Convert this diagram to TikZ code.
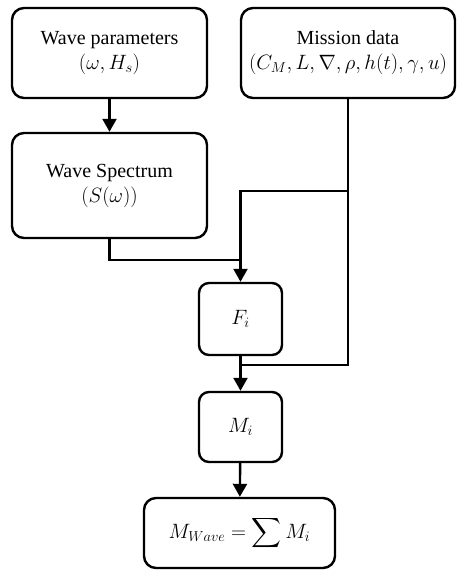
\documentclass[tikz,border=0pt]{standalone}
\usepackage{amsmath}
\usepackage{fontspec}
\setmainfont{Liberation Serif}
\usetikzlibrary{arrows.meta}

\tikzset{
    blk/.style={draw, line width=2.4pt, rounded corners=12pt, align=center,
        font=\fontsize{20}{25}\selectfont, inner sep=2pt},
    link/.style={line width=2.4pt},
    flow/.style={link, -{Triangle[length=13pt,width=14pt]}},
}

\begin{document}
\begin{tikzpicture}[x=1pt, y=-1pt]
    \useasboundingbox (0,0) rectangle (457,571);
    \node[blk, minimum width=195pt, minimum height=90pt] (wp) at (109.5,53)
        {Wave parameters\\$(\omega,H_s)$};
    \node[blk, minimum width=214pt, minimum height=90pt] (md) at (348,53)
        {Mission data\\$(C_M,L,\nabla,\rho,h(t),\gamma,u)$};
    \node[blk, minimum width=195pt, minimum height=105pt] (ws) at (109.5,185.5)
        {Wave Spectrum\\$(S(\omega))$};
    \node[blk, minimum width=83pt, minimum height=72pt, rounded corners=10pt] (fi) at (240.5,319) {$F_i$};
    \node[blk, minimum width=83pt, minimum height=70pt, rounded corners=10pt] (mi) at (240.5,427) {$M_i$};
    \node[blk, minimum width=191pt, minimum height=70pt] (mw) at (239.5,533)
        {$M_{Wave}=\displaystyle\sum M_i$};
    \coordinate (sp) at (240.5,260);
    \coordinate (br) at (348,191);
    \coordinate (bt) at (348,365);
    % links
    \draw[flow] (wp) -- (ws);
    \draw[link] (ws.south) |- (sp);
    \draw[flow] (md.south) -- (br) -| (fi.north);
    \draw[link] (br) -- (bt) -| (fi.south);
    \draw[flow] (fi) -- (mi);
    \draw[flow] (mi) -- (mw);
\end{tikzpicture}
\end{document}
